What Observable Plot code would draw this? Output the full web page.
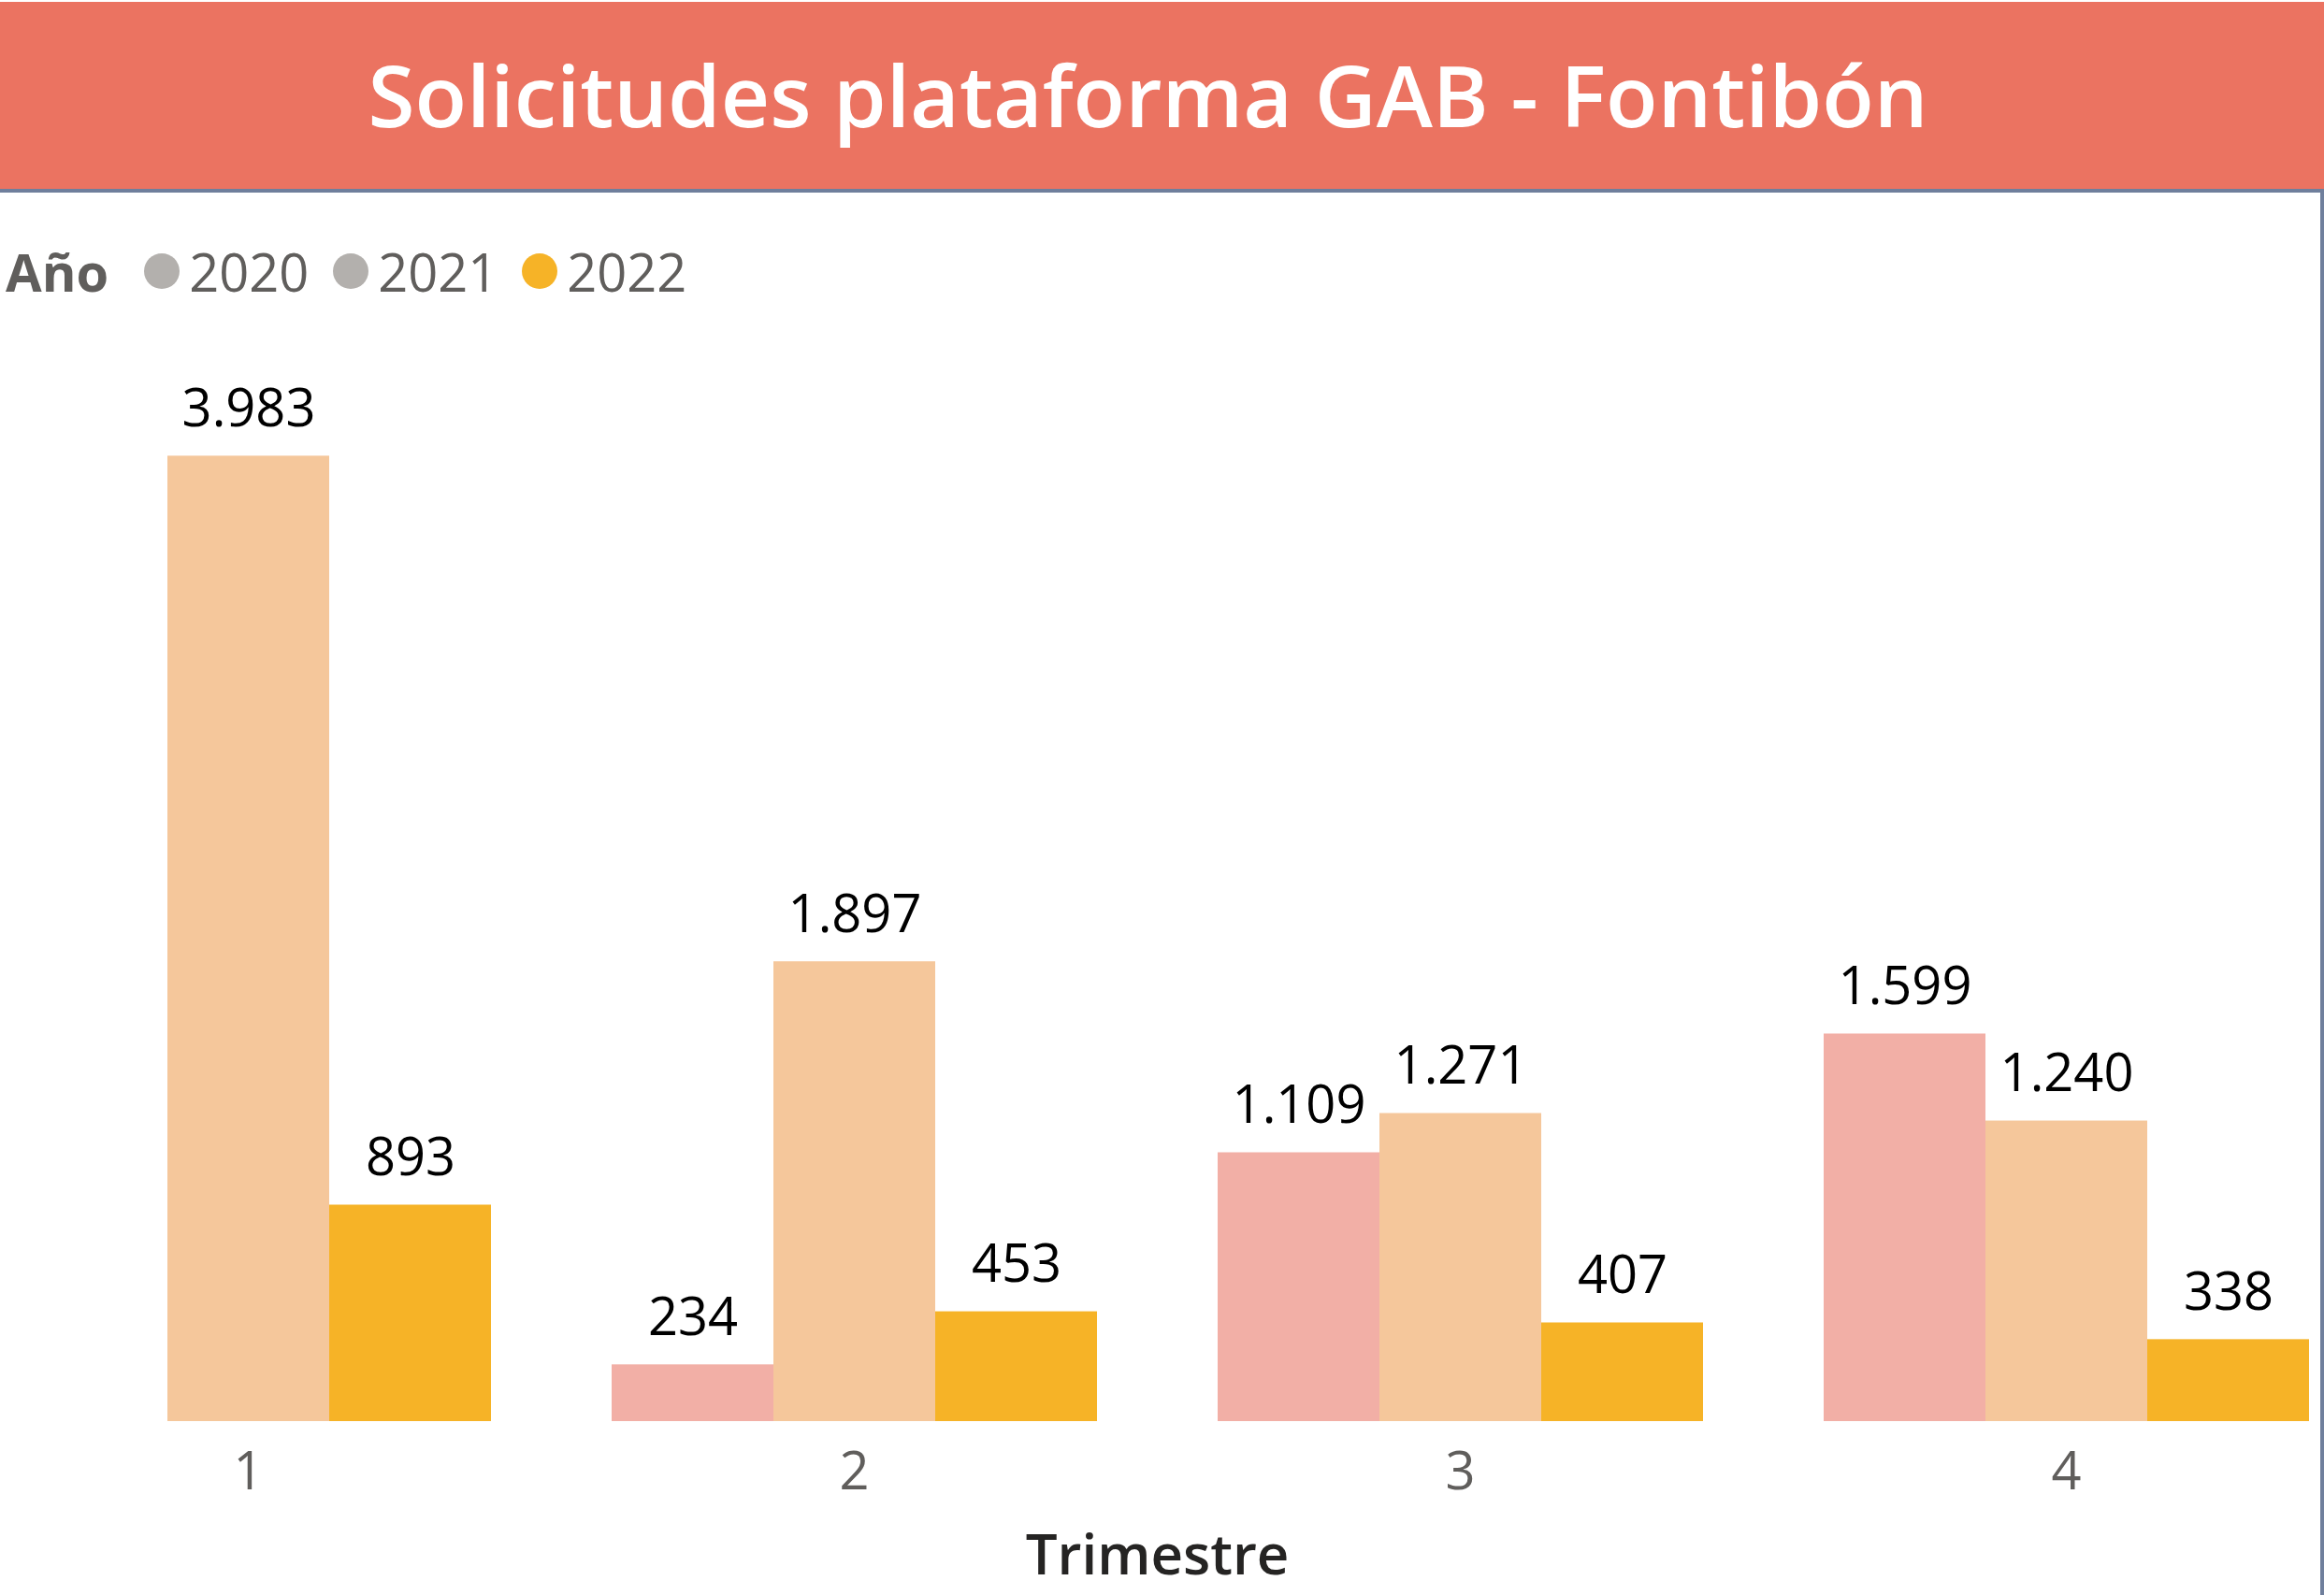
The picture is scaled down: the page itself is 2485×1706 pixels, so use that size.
<!DOCTYPE html>
<html>
<head>
<meta charset="utf-8">
<script src="https://cdn.jsdelivr.net/npm/d3@7"></script>
<script src="https://cdn.jsdelivr.net/npm/@observablehq/plot@0.6"></script>
<style>
  html, body { margin: 0; padding: 0; background: #fff; }
  #page { position: relative; width: 2485px; height: 1706px; overflow: hidden; font-family: "Open Sans", "Noto Sans", sans-serif; }
  #header { position: absolute; left: 0; top: 2px; width: 2485px; height: 200px; background: #EB7361; border-bottom: 4px solid #6F7F9C; }
  #title { position: absolute; left: 0; width: 2455px; top: 44px; text-align: center; color: #fff; font-weight: 600; font-size: 91px; line-height: 110px; white-space: nowrap; }
  #rborder { position: absolute; left: 2481px; top: 202px; width: 4px; height: 1504px; background: #6F7F9C; }
  #legend { position: absolute; left: 6px; top: 258px; height: 64px; display: flex; align-items: center; white-space: nowrap; }
  #legend .hdr { font-weight: 700; font-size: 56px; color: #605E5C; margin-right: 38px; }
  #legend .sw { width: 38px; height: 38px; border-radius: 50%; margin-right: 10px; }
  #legend .lb { font-size: 56px; color: #605E5C; margin-right: 26px; }
  #chart { position: absolute; left: 0; top: 340px; }
  #chart [aria-label="fx-axis label"], #chart [aria-label="fx-axis label"] text { font-weight: 600; fill: #252423; font-size: 60px; }
</style>
</head>
<body>
<div id="page">
  <div id="header"><div id="title">Solicitudes plataforma GAB - Fontibón</div></div>
  <div id="rborder"></div>
  <div id="legend"></div>
  <div id="chart"></div>
</div>
<script>
// ---- data ----
const quarters = [1, 2, 3, 4];
const years = ["2020", "2021", "2022"];
const values2020 = [null, 234, 1109, 1599];
const values2021 = [3983, 1897, 1271, 1240];
const values2022 = [893, 453, 407, 338];
const barColors = ["#F2AFA6", "#F5C79B", "#F6B327"];
const legendColors = ["#B3B0AD", "#B3B0AD", "#F6B327"];
const legendTitle = "Año";
const axisTitle = "Trimestre";

const series = {"2020": values2020, "2021": values2021, "2022": values2022};
const rows = [];
quarters.forEach((q, i) => {
  years.forEach(y => rows.push({q, year: y, value: series[y][i]}));
});
const present = rows.filter(d => d.value != null);

const fmt = d3.formatLocale({decimal: ",", thousands: ".", grouping: [3], currency: ["$", ""]}).format(",d");

// ---- legend ----
const legend = document.getElementById("legend");
const hdr = document.createElement("span");
hdr.className = "hdr"; hdr.textContent = legendTitle; legend.appendChild(hdr);
years.forEach((y, i) => {
  const sw = document.createElement("span");
  sw.className = "sw"; sw.style.background = legendColors[i]; legend.appendChild(sw);
  const lb = document.createElement("span");
  lb.className = "lb"; lb.textContent = y; legend.appendChild(lb);
});

// ---- chart ----
const chart = Plot.plot({
  width: 2481,
  height: 1366,
  marginLeft: 5,
  marginRight: 11,
  marginTop: 143,
  marginBottom: 186,
  style: {fontFamily: '"Open Sans", "Noto Sans", sans-serif', background: "transparent", overflow: "visible"},
  fx: {domain: quarters, paddingInner: 0.1975, paddingOuter: 0},
  x: {domain: years, padding: 0, axis: null},
  y: {domain: [0, 4000], axis: null},
  color: {domain: years, range: barColors},
  marks: [
    Plot.barY(present, {fx: "q", x: "year", y: "value", fill: "year"}),
    Plot.text(present, {fx: "q", x: "year", y: "value", text: d => fmt(d.value), lineAnchor: "bottom", dy: -32, fontSize: 56, fill: "#000"}),
    Plot.axisFx({anchor: "bottom", tickSize: 0, tickPadding: 33, fontSize: 56, color: "#605E5C", label: axisTitle, labelAnchor: "center", labelOffset: 163})
  ]
});
document.getElementById("chart").appendChild(chart);
</script>
</body>
</html>
